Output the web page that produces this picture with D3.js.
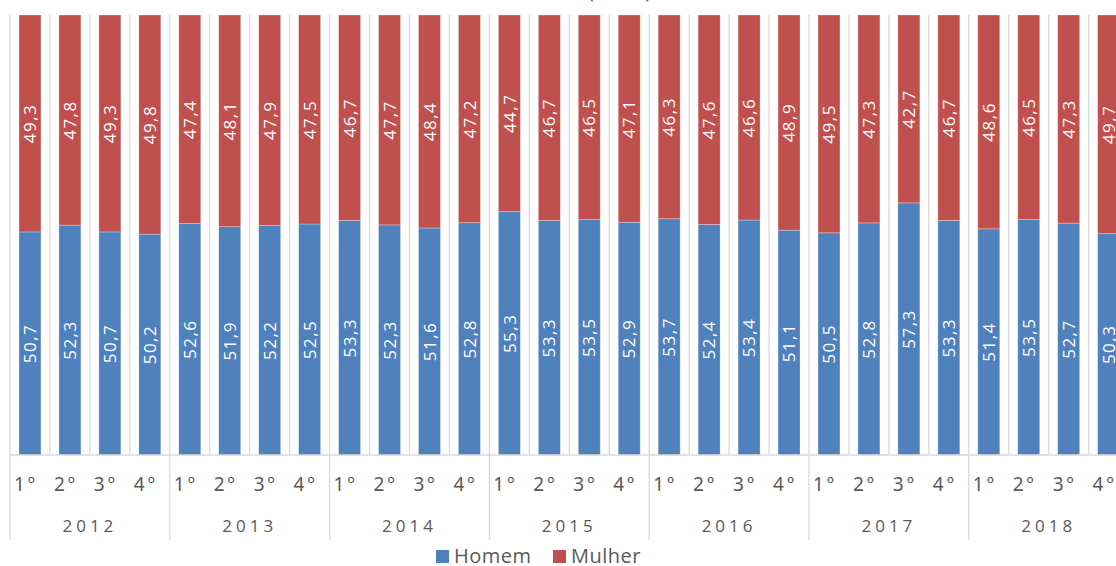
<!DOCTYPE html>
<html>
<head>
<meta charset="utf-8">
<script src="https://cdn.jsdelivr.net/npm/d3@7"></script>
<style>
    body { margin: 0; background: #fff; }
    text { font-family: "Open Sans", "Noto Sans", sans-serif; }
</style>
</head>
<body>
<div id="chart-area"></div>
<script>

// values (percent)
const years = ["2012", "2013", "2014", "2015", "2016", "2017", "2018"];
const quarters = ["1º", "2º", "3º", "4º"];
const homem = [
    50.7, 52.3, 50.7, 50.2,
    52.6, 51.9, 52.2, 52.5,
    53.3, 52.3, 51.6, 52.8,
    55.3, 53.3, 53.5, 52.9,
    53.7, 52.4, 53.4, 51.1,
    50.5, 52.8, 57.3, 53.3,
    51.4, 53.5, 52.7, 50.3
];
const mulher = [
    49.3, 47.8, 49.3, 49.8,
    47.4, 48.1, 47.9, 47.5,
    46.7, 47.7, 48.4, 47.2,
    44.7, 46.7, 46.5, 47.1,
    46.3, 47.6, 46.6, 48.9,
    49.5, 47.3, 42.7, 46.7,
    48.6, 46.5, 47.3, 49.7
];
const seriesNames = ["Homem", "Mulher"];
const seriesColors = ["#4F81BD", "#C0504D"];
const chartTitle = "(em %)";

class StackedBarVis {

    constructor(_parentElement) {
        this.parentElement = _parentElement;

        this.data = [];
        years.forEach((y, i) => {
            quarters.forEach((q, j) => {
                let k = i * 4 + j;
                this.data.push({ key: y + "-" + q, year: y, quarter: q, Homem: homem[k], Mulher: mulher[k] });
            });
        });

        this.initVis();
    }

    initVis() {
        let vis = this;

        vis.width = 1116;
        vis.height = 566;

        vis.svg = d3.select("#" + vis.parentElement).append("svg")
            .attr("width", vis.width)
            .attr("height", vis.height);

        vis.plotTop = 15;
        vis.plotBottom = 455;

        vis.x = d3.scaleBand()
            .domain(vis.data.map(d => d.key))
            .range([10, 10 + 28 * 39.95])
            .paddingInner(0.45)
            .paddingOuter(0.225);

        vis.y = d3.scaleLinear()
            .domain([0, 1])
            .range([vis.plotBottom, vis.plotTop]);

        // title, mostly above the visible area
        vis.svg.append("text")
            .attr("x", 588)
            .attr("y", -2)
            .attr("fill", "#595959")
            .style("font-size", "20px")
            .text(chartTitle);

        vis.wrangleData();
    }

    wrangleData() {
        let vis = this;

        // 100% stacked: normalise each category
        vis.stack = d3.stack()
            .keys(seriesNames)
            .offset(d3.stackOffsetExpand);

        vis.displayData = vis.stack(vis.data);

        vis.updateVis();
    }

    updateVis() {
        let vis = this;
        let step = vis.x.step();
        let x0 = vis.x.range()[0];

        // vertical gridlines between categories
        vis.svg.append("g")
            .attr("class", "grid")
            .selectAll("line")
            .data(d3.range(0, 29))
            .enter()
            .append("line")
            .attr("x1", i => x0 + i * step)
            .attr("x2", i => x0 + i * step)
            .attr("y1", vis.y(1))
            .attr("y2", vis.y(0))
            .attr("stroke", "#d9d9d9")
            .attr("stroke-width", 1.3);

        // bars
        let layers = vis.svg.selectAll(".layer")
            .data(vis.displayData)
            .enter()
            .append("g")
            .attr("class", "layer")
            .attr("fill", (d, i) => seriesColors[i]);

        layers.selectAll("rect")
            .data(d => d)
            .enter()
            .append("rect")
            .attr("x", d => vis.x(d.data.key))
            .attr("y", d => vis.y(d[1]))
            .attr("width", vis.x.bandwidth())
            .attr("height", d => vis.y(d[0]) - vis.y(d[1]))
            .attr("stroke", "#ffffff")
            .attr("stroke-opacity", 0.35)
            .attr("stroke-width", 0.8);

        // data labels
        layers.each(function(layer) {
            d3.select(this).selectAll("text")
                .data(layer)
                .enter()
                .append("text")
                .attr("transform", d => {
                    let cx = vis.x(d.data.key) + vis.x.bandwidth() / 2;
                    let cy = (vis.y(d[0]) + vis.y(d[1])) / 2;
                    return "translate(" + cx + "," + cy + ") rotate(-90)";
                })
                .attr("text-anchor", "middle")
                .attr("dy", "0.36em")
                .attr("fill", "#ffffff")
                .style("font-size", "17px")
                .style("letter-spacing", "1.5px")
                .text(d => d.data[layer.key].toFixed(1).replace(".", ","));
        });

        // category axis
        let axis = vis.svg.append("g").attr("class", "x-axis");

        axis.append("line")
            .attr("x1", x0)
            .attr("x2", x0 + 28 * step)
            .attr("y1", vis.plotBottom)
            .attr("y2", vis.plotBottom)
            .attr("stroke", "#d9d9d9")
            .attr("stroke-width", 1.3);

        axis.selectAll(".year-tick")
            .data(d3.range(0, 8))
            .enter()
            .append("line")
            .attr("class", "year-tick")
            .attr("x1", i => x0 + i * 4 * step)
            .attr("x2", i => x0 + i * 4 * step)
            .attr("y1", vis.plotBottom)
            .attr("y2", 540)
            .attr("stroke", "#d9d9d9")
            .attr("stroke-width", 1.3);

        axis.selectAll(".quarter-label")
            .data(vis.data)
            .enter()
            .append("text")
            .attr("class", "quarter-label")
            .attr("x", d => vis.x(d.key) + vis.x.bandwidth() / 2 - 4)
            .attr("y", 491)
            .attr("text-anchor", "middle")
            .attr("fill", "#595959")
            .style("font-family", "'Noto Sans', sans-serif")
            .style("font-size", "19px")
            .style("letter-spacing", "3px")
            .text(d => d.quarter);

        axis.selectAll(".year-label")
            .data(years)
            .enter()
            .append("text")
            .attr("class", "year-label")
            .attr("x", (d, i) => x0 + (i * 4 + 2) * step)
            .attr("y", 532)
            .attr("text-anchor", "middle")
            .attr("fill", "#595959")
            .style("font-size", "17px")
            .style("letter-spacing", "4px")
            .text(d => d);

        // legend
        let legend = vis.svg.append("g")
            .attr("class", "legend")
            .selectAll("g")
            .data(seriesNames)
            .enter()
            .append("g")
            .attr("transform", (d, i) => "translate(" + (436 + i * 117) + ",550)");

        legend.append("rect")
            .attr("width", 13)
            .attr("height", 13)
            .attr("fill", (d, i) => seriesColors[i]);

        legend.append("text")
            .attr("x", 18)
            .attr("y", 13)
            .attr("fill", "#595959")
            .style("font-size", "20px")
            .style("letter-spacing", "0.5px")
            .text(d => d);
    }
}

let stackedBarVis = new StackedBarVis("chart-area");

</script>
</body>
</html>
